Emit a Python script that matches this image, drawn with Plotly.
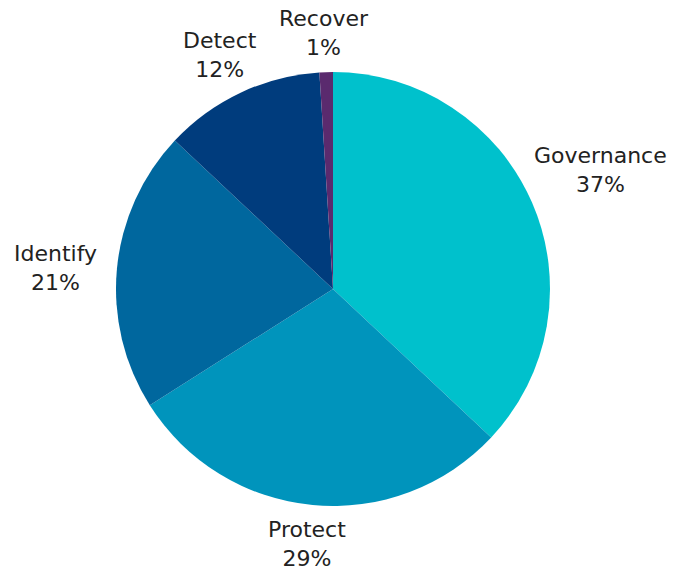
import math
import plotly.graph_objects as go

labels = ["Governance", "Protect", "Identify", "Detect", "Recover"]
values = [37, 29, 21, 12, 1]
colors = ["#00C1CC", "#0094BC", "#00679E", "#003C7D", "#5A2A6E"]

# layout constants (pixels)
W, H = 686, 571
ML, MR, MT, MB = 0, 20, 72, 65
R = min(W - ML - MR, H - MT - MB) / 2  # pie radius in px
LABEL_R = R + 10
CHAR_W = 13
FONT = dict(family="DejaVu Sans", size=22, color="#222222")

fig = go.Figure(go.Pie(
    labels=labels,
    values=values,
    sort=False,
    direction="clockwise",
    rotation=0,
    marker=dict(colors=colors, line=dict(width=0)),
    textinfo="none",
    hoverinfo="label+percent",
    showlegend=False,
    automargin=False,
))

total = sum(values)
cum = 0
annotations = []
for lab, v in zip(labels, values):
    mid = (cum + v / 2) / total * 2 * math.pi
    cum += v
    s, c = math.sin(mid), math.cos(mid)
    pct = round(v / total * 100)
    half_w = len(lab) * CHAR_W / 2
    dx = LABEL_R * s + s * half_w
    dy = LABEL_R * c
    if c > 0.3:
        ya = "bottom"
    elif c < -0.3:
        ya = "top"
    else:
        ya = "middle"
    annotations.append(dict(
        x=0.5, y=0.5, xref="paper", yref="paper",
        xshift=dx, yshift=dy,
        xanchor="center", yanchor=ya,
        text=f"{lab}<br>{pct}%", showarrow=False,
        font=FONT, align="center",
    ))

fig.update_layout(
    width=W, height=H,
    margin=dict(l=ML, r=MR, t=MT, b=MB),
    paper_bgcolor="white",
    annotations=annotations,
)
fig.write_html("out.html")
